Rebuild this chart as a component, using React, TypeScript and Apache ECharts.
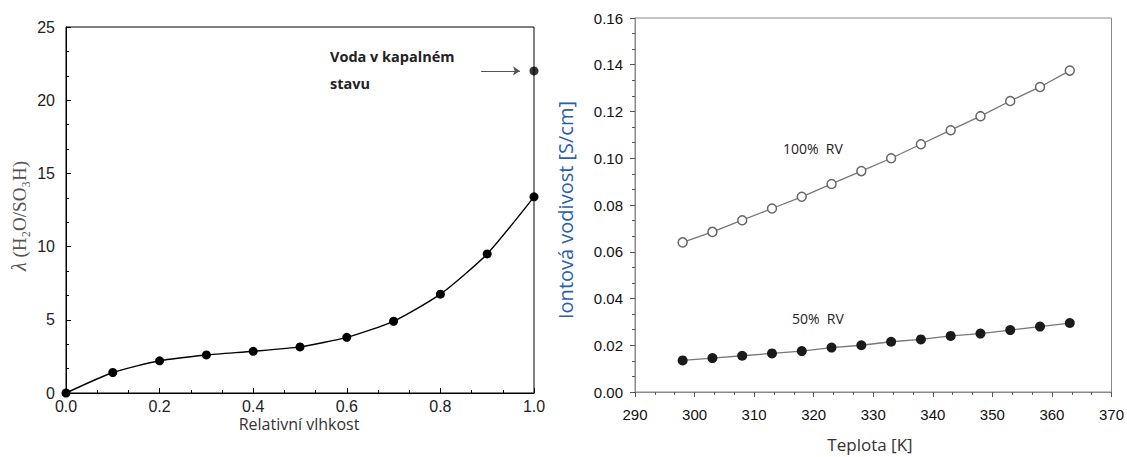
import React, { useEffect, useRef } from "react";
import * as echarts from "echarts";

// Water uptake λ versus relative humidity
const humidity = [0, 0.1, 0.2, 0.3, 0.4, 0.5, 0.6, 0.7, 0.8, 0.9, 1.0];
const lambda = [0, 1.4, 2.2, 2.6, 2.85, 3.15, 3.8, 4.9, 6.75, 9.5, 13.4];
const liquidWater = [1.0, 22];
const liquidArrowFrom = [0.887, 22];
const liquidArrowTo = [0.97, 22];

// Ionic conductivity versus temperature
const temperatureK = [298, 303, 308, 313, 318, 323, 328, 333, 338, 343, 348, 353, 358, 363];
const conductivity100 = [0.064, 0.0685, 0.0735, 0.0785, 0.0835, 0.089, 0.0945, 0.1, 0.106, 0.112, 0.118, 0.1245, 0.1305, 0.1375];
const conductivity50 = [0.0135, 0.0145, 0.0155, 0.0165, 0.0175, 0.019, 0.02, 0.0215, 0.0225, 0.024, 0.025, 0.0265, 0.028, 0.0295];

const pairs = (xs: number[], ys: number[]) => xs.map((x, i) => [x, ys[i]]);

const tickFont = "'Liberation Sans', Arial, sans-serif";
const titleFont = "'Open Sans', 'Noto Sans', sans-serif";
const serifFont = "'Liberation Serif', 'DejaVu Serif', serif";

export default function App() {
  const ref = useRef<HTMLDivElement>(null);

  useEffect(() => {
    if (!ref.current) return;
    const chart = echarts.init(ref.current, undefined, { renderer: "svg" });

    chart.setOption({
      animation: false,
      backgroundColor: "#fff",
      grid: [
        { left: 66, top: 27, width: 468, height: 366, show: true, borderColor: "#000", borderWidth: 1, backgroundColor: "transparent" },
        { left: 635, top: 18, width: 477, height: 374, show: true, borderColor: "#8a8a8a", borderWidth: 1, backgroundColor: "transparent" },
      ],
      xAxis: [
        {
          gridIndex: 0,
          type: "value",
          min: 0,
          max: 1,
          interval: 0.2,
          axisLine: { lineStyle: { color: "#000", width: 1 } },
          axisTick: { inside: true, length: 5, lineStyle: { color: "#000" } },
          minorTick: { show: true, splitNumber: 3, length: 3, lineStyle: { color: "#000" } },
          splitLine: { show: false },
          axisLabel: { formatter: (v: number) => v.toFixed(1), color: "#222", fontSize: 16, fontFamily: tickFont, margin: 5 },
        },
        {
          gridIndex: 1,
          type: "value",
          min: 290,
          max: 370,
          interval: 10,
          axisLine: { lineStyle: { color: "#8a8a8a", width: 1 } },
          axisTick: { inside: false, length: 5, lineStyle: { color: "#555" } },
          minorTick: { show: true, splitNumber: 3, length: 3, lineStyle: { color: "#555" } },
          splitLine: { show: false },
          axisLabel: { color: "#111", fontSize: 15, fontFamily: tickFont, margin: 15 },
        },
      ],
      yAxis: [
        {
          gridIndex: 0,
          type: "value",
          min: 0,
          max: 25,
          interval: 5,
          axisLine: { show: true, lineStyle: { color: "#000", width: 1 } },
          axisTick: { show: true, inside: true, length: 5, lineStyle: { color: "#000" } },
          minorTick: { show: true, splitNumber: 3, length: 3, lineStyle: { color: "#000" } },
          splitLine: { show: false },
          axisLabel: { color: "#222", fontSize: 16, fontFamily: tickFont, margin: 11 },
        },
        {
          gridIndex: 1,
          type: "value",
          min: 0,
          max: 0.16,
          interval: 0.02,
          axisLine: { show: true, lineStyle: { color: "#8a8a8a", width: 1 } },
          axisTick: { show: true, inside: false, length: 5, lineStyle: { color: "#555" } },
          minorTick: { show: true, splitNumber: 3, length: 3, lineStyle: { color: "#555" } },
          splitLine: { show: false },
          axisLabel: { formatter: (v: number) => v.toFixed(2), color: "#111", fontSize: 15, fontFamily: tickFont, margin: 12 },
        },
      ],
      series: [
        {
          name: "lambda",
          type: "line",
          xAxisIndex: 0,
          yAxisIndex: 0,
          data: pairs(humidity, lambda),
          smooth: 0.2,
          clip: false,
          symbol: "circle",
          symbolSize: 9,
          itemStyle: { color: "#000" },
          lineStyle: { color: "#000", width: 1.4 },
        },
        {
          name: "liquid",
          type: "scatter",
          xAxisIndex: 0,
          yAxisIndex: 0,
          data: [liquidWater],
          clip: false,
          symbol: "circle",
          symbolSize: 9,
          itemStyle: { color: "#000" },
          markLine: {
            silent: true,
            symbol: ["none", "arrow"],
            symbolSize: 7,
            label: { show: false },
            lineStyle: { color: "#555", width: 1, type: "solid" },
            data: [[{ coord: liquidArrowFrom }, { coord: liquidArrowTo }]],
          },
        },
        {
          name: "100% RV",
          type: "line",
          xAxisIndex: 1,
          yAxisIndex: 1,
          data: pairs(temperatureK, conductivity100),
          symbol: "circle",
          symbolSize: 9,
          itemStyle: { color: "#fff", borderColor: "#666", borderWidth: 1.5 },
          lineStyle: { color: "#777", width: 1.3 },
        },
        {
          name: "50% RV",
          type: "line",
          xAxisIndex: 1,
          yAxisIndex: 1,
          data: pairs(temperatureK, conductivity50),
          symbol: "circle",
          symbolSize: 10,
          itemStyle: { color: "#1a1a1a" },
          lineStyle: { color: "#777", width: 1.3 },
        },
      ],
      graphic: [
        {
          type: "text",
          x: 19,
          y: 216,
          rotation: Math.PI / 2,
          style: {
            text: "{i|λ} (H₂O/SO₃H)",
            font: `19px ${serifFont}`,
            fill: "#555",
            textAlign: "center",
            textVerticalAlign: "middle",
            rich: {
              i: { font: `italic 20px ${serifFont}`, fill: "#555" },
            },
          },
        },
        {
          type: "text",
          x: 299,
          y: 424,
          style: { text: "Relativní vlhkost", font: `16px ${titleFont}`, fill: "#333", textAlign: "center", textVerticalAlign: "middle" },
        },
        {
          type: "text",
          x: 330,
          y: 56,
          style: { text: "Voda v kapalném", font: `bold 14.5px ${titleFont}`, fill: "#222", textAlign: "left", textVerticalAlign: "middle" },
        },
        {
          type: "text",
          x: 330,
          y: 83,
          style: { text: "stavu", font: `bold 14.5px ${titleFont}`, fill: "#222", textAlign: "left", textVerticalAlign: "middle" },
        },
        {
          type: "text",
          x: 565,
          y: 210,
          rotation: Math.PI / 2,
          style: { text: "Iontová vodivost [S/cm]", font: `20px ${titleFont}`, fill: "#2b5fad", textAlign: "center", textVerticalAlign: "middle" },
        },
        {
          type: "text",
          x: 870,
          y: 444,
          style: { text: "Teplota [K]", font: `17px ${titleFont}`, fill: "#333", textAlign: "center", textVerticalAlign: "middle" },
        },
        {
          type: "text",
          x: 783,
          y: 148,
          style: { text: "100%  RV", font: `14px ${titleFont}`, fill: "#222", textAlign: "left", textVerticalAlign: "middle" },
        },
        {
          type: "text",
          x: 792,
          y: 318,
          style: { text: "50%  RV", font: `14px ${titleFont}`, fill: "#222", textAlign: "left", textVerticalAlign: "middle" },
        },
      ],
    });

    return () => chart.dispose();
  }, []);

  return <div ref={ref} style={{ position: "absolute", left: 0, top: 0, width: 1127, height: 457 }} />;
}
